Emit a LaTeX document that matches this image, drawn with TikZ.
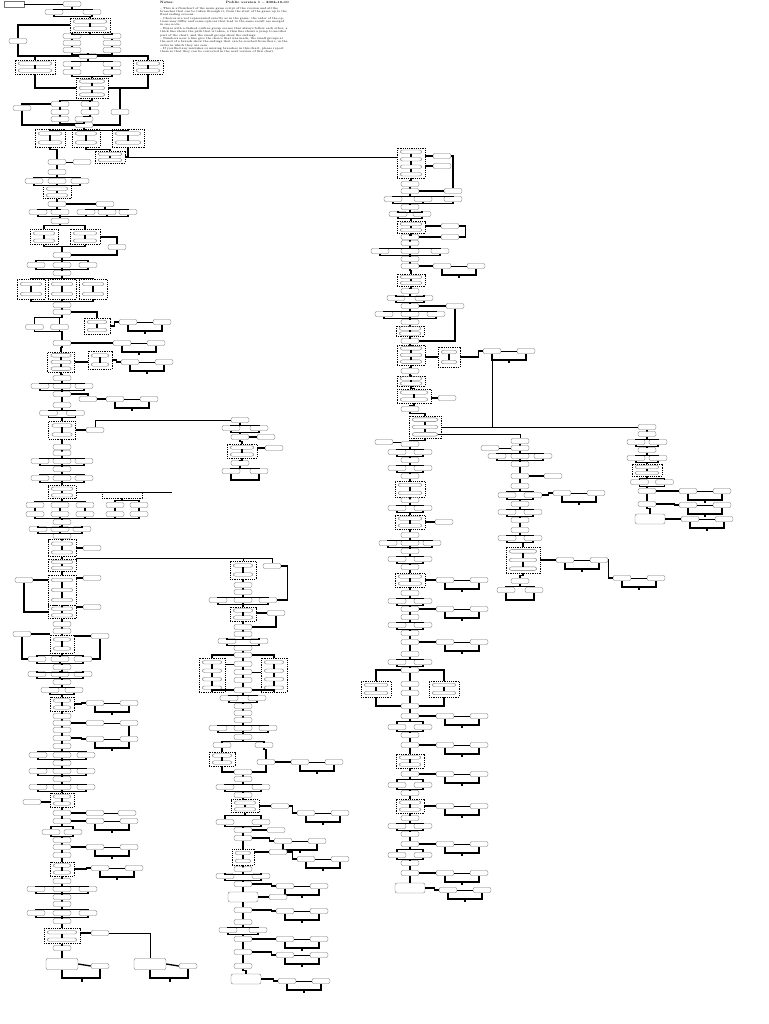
\documentclass[tikz,border=0pt]{standalone}
\usepackage{fontspec}
\usetikzlibrary{calc}
\tikzset{
 nb/.style={draw=black!55,line width=0.35pt,rounded corners=2pt,minimum width=18,minimum height=5,inner sep=0pt,fill=white},
 conn/.style={line width=1.3pt,black},
 thinl/.style={line width=0.5pt,black},
 dbox/.style={draw,line width=0.6pt,dash pattern=on 1.2pt off 1pt,inner sep=0pt},
}
\newcommand\xNd[3]{\node[nb] (#1) at (#2,#3) {};}
\newcommand\xBig[3]{\node[nb,minimum width=30,minimum height=10] (#1) at (#2,#3) {};}
\newcommand\xRow[5]{\foreach \j in {1,...,#4}{\node[nb] (#1-\j) at ({#2+(\j-(#4+1)/2)*#5},#3) {};}}
\newcommand\xFO[3]{\foreach \j in {1,...,#3}{\draw[conn] (#1.south) -- ++(0,2.5) -| (#2-\j.north);}}
\newcommand\xFI[3]{\foreach \j in {1,...,#2}{\draw[conn] (#1-\j.south) -- ++(0,2) -| (#3.north);}}
\newcommand\xVL[2]{\draw[conn] (#1.south) -- ++(0,2) -| (#2.north);}
\newcommand\xPR[3]{\foreach \j in {1,...,#3}{\draw[conn] (#1-\j.south) -- (#2-\j.north);}}
\newcommand\xC[1]{\draw[conn] #1;}
\newcommand\xT[1]{\draw[thinl] #1;}
\newcommand\xDB[6]{%
 \node[dbox,minimum width=#4,minimum height=#5] (#1) at (#2,#3) {};
 \foreach \j in {1,...,#6}{\node[nb,minimum width={#4-7},minimum height=3.5] (#1-\j) at (#2,{#3-#5/2+(\j-0.5)*#5/#6}) {};}
 \foreach \j in {2,...,#6}{\pgfmathtruncatemacro\jp{\j-1}\draw[conn] (#1-\jp.south) -- (#1-\j.north);}}
\newcommand\xSD[4]{%
 \node[nb] (#1a) at (#3,#4) {};
 \node[nb] (#1b) at ({#3+34},#4) {};
 \coordinate (#1m) at ({#3+17},{#4+9});
 \draw[conn] (#2.east) -| ($(#1a.west)+(-4,0)$) -- (#1a.west);
 \draw[thinl] (#1a.east) -- (#1b.west);
 \draw[conn] (#1a.south) |- (#1m) -| (#1b.south);
 \draw[conn] (#1m) -- ++(0,3);}
\begin{document}
\begin{tikzpicture}[x=1pt,y=-1pt]
\useasboundingbox (0,0) rectangle (768,1024);
\fill[white] (0,0) rectangle (768,1024);
% ---------------- header text
\node[anchor=north west,inner sep=0,font=\fontsize{3.2}{3.5}\selectfont\bfseries] (hdr1) at (160,1) {Notes:};
\node[anchor=north east,inner sep=0,font=\fontsize{3.2}{3.5}\selectfont\bfseries] (hdr2) at (289,1) {Public version 1 -- 2004-10-10};
\node[anchor=north west,inner sep=0,text width=128pt,align=left,font=\fontsize{2.9}{3.35}\selectfont] (hdr3) at (160,7) {%
-- This is a flowchart of the main game script of the version and all the branches that can be taken through it, from the start of the game up to the final ending screens.\\
-- Choices are not represented exactly as in the game: the order of the options may differ and some options that lead to the same result are merged in one node.\\
-- Boxes with a dashed outline group scenes that always follow each other; a thick line shows the path that is taken, a thin line shows a jump to another part of the chart, and the small groups show the endings.\\
-- Numbers near a line give the choice that was made; the small groups at the end of a branch show the endings that can be reached from there, in the order in which they are seen.\\
-- If you find any mistakes or missing branches in this chart, please report them so that they can be corrected in the next version of this chart.};
% ---------------- column A, top part
\node[nb,rounded corners=0pt,minimum width=20,minimum height=6] (t0) at (14,4) {};
\xNd{t1}{72}{4}
\xT{(t0.east) -- (t1.west)}
\xRow{t2}{73}{12}{2}{38}
\xFO{t1}{t2}{2}
\xDB{t3}{90}{25}{40}{14}{2}
\xFI{t2}{2}{t3}
\xRow{t4}{92}{36}{2}{40}
\xFO{t3}{t4}{2}
\xRow{t5}{92}{43}{2}{40}
\xPR{t4}{t5}{2}
\xRow{t6}{92}{50}{2}{40}
\xPR{t5}{t6}{2}
\xNd{t7}{88}{56}
\xFI{t6}{2}{t7}
\xNd{tL}{18}{41}
\xC{(t3.west) -| (tL.north)}
\xC{(tL.south) |- (t7.west)}
\xDB{t8}{35}{67}{40}{14}{2}
\xRow{t9}{92}{64}{2}{40}
\xFO{t7}{t9}{2}
\xRow{t10}{92}{72}{2}{40}
\xPR{t9}{t10}{2}
\xDB{t11}{148}{67}{30}{14}{2}
\xC{(t7.west) -| (t8.north)}
\xC{(t7.east) -| (t11.north)}
\xDB{t12}{92}{88}{32}{20}{3}
\xFI{t10}{2}{t12}
\xC{(t8.south) |- (t12.west)}
\xC{(t11.south) |- (t12.east)}
\xRow{t13}{75}{104}{2}{30}
\xFO{t12}{t13}{2}
\xNd{t14}{22}{108}
\xC{(t13-1.west) -| (t14.north)}
\xRow{t15}{90}{112}{3}{30}
\xVL{t13-1}{t15-1}
\xVL{t13-2}{t15-2}
\xC{(t12.east) -| (t15-3.north)}
\xRow{t16}{72}{119}{2}{24}
\xVL{t15-1}{t16-1}
\xVL{t15-2}{t16-2}
\xNd{t17}{84}{125}
\xFI{t16}{2}{t17}
\xC{(t15-3.south) |- (t17.east)}
\xC{(t14.south) |- (t17.west)}
\xDB{t18-1}{50}{138}{30}{18}{2}
\xDB{t18-2}{86}{138}{28}{18}{2}
\xDB{t18-3}{128}{138}{32}{18}{2}
\xFO{t17}{t18}{3}
\xDB{t19}{110}{157}{30}{12}{2}
\xC{(t18-2.south) -- ++(0,2) -| (t19.north)}
\xC{(t18-3.south) |- (t19.east)}
% ---------------- column A
\xNd{a1}{57}{162}
\xC{(t18-1.south) -- ++(0,2) -| (a1.north)}
\xNd{a1s}{82}{162}
\xT{(a1.east) -- (a1s.west)}
\xNd{a2}{57}{172} \xVL{a1}{a2}
\xRow{a3}{57}{181}{3}{23} \xFO{a2}{a3}{3}
\xDB{a4}{57}{192}{28}{13}{2} \xFI{a3}{3}{a4}
\xNd{a5}{57}{204} \xVL{a4}{a5}
\xRow{a6}{49}{212}{2}{22} \xFO{a5}{a6}{2}
\xNd{a6x}{105}{204} \xC{(a5.east) -- (a6x.west)}
\xRow{a6y}{107}{212}{3}{21} \xFO{a6x}{a6y}{3}
\xNd{a7}{60}{221} \xFI{a6}{2}{a7} \xFI{a6y}{3}{a7}
\xDB{a8l}{44}{237}{28}{15}{2}
\xDB{a8r}{85}{237}{30}{15}{2}
\xC{(a7.south) -- ++(0,2) -| (a8l.north)}
\xC{(a7.south) -- ++(0,2) -| (a8r.north)}
\xNd{a8s}{117}{247}
\xNd{a9}{62}{255}
\xC{(a8l.south) -- ++(0,2) -| (a9.north)}
\xC{(a8r.south) -- ++(0,2) -| (a9.north)}
\xC{(a8r.east) -| (a8s.north)}
\xC{(a8s.south) |- (a9.east)}
\xRow{a10}{62}{265}{3}{26} \xFO{a9}{a10}{3}
\xNd{a11}{62}{273} \xFI{a10}{3}{a11}
\xDB{a12-1}{31}{289}{28}{20}{2}
\xDB{a12-2}{62}{289}{28}{20}{2}
\xDB{a12-3}{93}{289}{28}{20}{2}
\xFO{a11}{a12}{3}
\xNd{a13}{62}{305} \xFI{a12}{3}{a13}
\xNd{a14}{62}{312} \xVL{a13}{a14}
\xRow{a15}{47}{327}{2}{25} \xFO{a14}{a15}{2}
\xDB{a15d}{97}{326}{26}{16}{2}
\xC{(a14.east) -| (a15d.north)}
\xSD{sa1}{a15d}{128}{322}
\xNd{a16}{62}{343} \xFI{a15}{2}{a16}
\xSD{sa2}{a16}{122}{343}
\xDB{a17}{61}{362}{27}{20}{3} \xVL{a16}{a17}
\xDB{a17r}{100}{360}{24}{18}{2}
\xC{(a17.east) -- (a17.east -| a17r.west)}
\xSD{sa3}{a17r}{130}{362}
\xNd{a18}{62}{378} \xVL{a17}{a18}
\xRow{a19}{62}{386}{3}{22} \xFO{a18}{a19}{3}
\xNd{a20}{62}{394} \xFI{a19}{3}{a20}
\xNd{a20s}{88}{399}
\xC{(a20.east) -| (a20s.north)}
\xSD{sa4}{a20s}{115}{399}
\xNd{a21}{62}{405} \xVL{a20}{a21}
\xRow{a22}{62}{413}{2}{27} \xFO{a21}{a22}{2}
\xDB{a23}{62}{430}{27}{18}{2} \xFI{a22}{2}{a23}
\xNd{a23s}{95}{430}
\xC{(a23.east) -- (a23s.west)}
\xNd{a24}{62}{447} \xVL{a23}{a24}
\xNd{a25}{62}{453} \xVL{a24}{a25}
\xRow{a26}{62}{461}{3}{22} \xFO{a25}{a26}{3}
\xNd{a27}{62}{469} \xFI{a26}{3}{a27}
\xRow{a28}{62}{478}{3}{22} \xFO{a27}{a28}{3}
\xDB{a30}{62}{492}{28}{13}{2} \xFI{a28}{3}{a30}
\node[dbox,minimum width=40,minimum height=6] (a30x) at (122,495) {};
\coordinate (a30e) at (172,488);
\xT{(a30.east) -- (a30.east -| a30e)}
\xRow{a31}{60}{505}{3}{25} \xFO{a30}{a31}{3}
\xRow{a31x}{127}{505}{2}{24} \xFO{a30x}{a31x}{2}
\xRow{a32}{60}{514}{3}{25} \xPR{a31}{a32}{3}
\xRow{a32x}{127}{514}{2}{24} \xPR{a31x}{a32x}{2}
\xNd{a33}{62}{522} \xFI{a32}{3}{a33} \xFI{a32x}{2}{a33}
\xRow{a34}{60}{529}{3}{22} \xFO{a33}{a34}{3}
\xNd{a35}{62}{536} \xFI{a34}{3}{a35}
\xDB{a36}{62}{548}{28}{17}{2} \xVL{a35}{a36}
\xNd{a36s}{92}{548} \xC{(a36.east) -- (a36s.west)}
\xDB{a37}{62}{565}{28}{12}{2} \xVL{a36}{a37}
\xDB{a38}{62}{590}{28}{30}{3} \xVL{a37}{a38}
\xNd{a38l}{24}{580} \xC{(a38l.east) -- (a38l.east -| a38.west)}
\xNd{a38r}{92}{578} \xC{(a38r.west) -- (a38r.west -| a38.east)}
\xDB{a39}{62}{612}{28}{13}{2} \xVL{a38}{a39}
\xC{(a38l.south) |- (a39.west)}
\xNd{a39r}{92}{607} \xC{(a39r.west) -- (a39r.west -| a39.east)}
\xNd{a40}{62}{624} \xVL{a39}{a40}
\xNd{a41}{62}{631} \xVL{a40}{a41}
\xDB{a42}{62}{644}{24}{18}{2} \xVL{a41}{a42}
\xNd{a42l}{22}{634} \xC{(a42l.east) -- (a42l.east -| a42.west)}
\xNd{a42r}{100}{636} \xC{(a42r.west) -- (a42r.west -| a42.east)}
\xRow{a43}{60}{659}{3}{23} \xFO{a42}{a43}{3}
\xC{(a42l.south) |- (a43-1.west)}
\xC{(a42r.south) |- (a43-3.east)}
\xNd{a44}{62}{667} \xFI{a43}{3}{a44}
\xRow{a45}{60}{674}{3}{23} \xFO{a44}{a45}{3}
\xNd{a46}{62}{682} \xFI{a45}{3}{a46}
\xRow{a47}{62}{690}{2}{24} \xFO{a46}{a47}{2}
\xDB{a48}{62}{704}{24}{14}{2} \xFI{a47}{2}{a48}
\xSD{sa5}{a48}{95}{703}
\xNd{a49}{62}{716} \xVL{a48}{a49}
\xNd{a50}{62}{723} \xVL{a49}{a50}
\xNd{a50s}{95}{723} \xNd{a50t}{129}{723}
\xC{(a50.east) -- (a50s.west)} \xT{(a50s.east) -- (a50t.west)}
\xNd{a51}{62}{730} \xVL{a50}{a51}
\xNd{a52}{62}{738} \xVL{a51}{a52}
\xSD{sa6}{a52}{95}{739}
\xC{(a50t.south) -- (sa6b.north)}
\xNd{a53}{62}{746} \xVL{a52}{a53}
\xRow{a54}{62}{755}{3}{24} \xFO{a53}{a54}{3}
\xNd{a55}{62}{763} \xFI{a54}{3}{a55}
\xRow{a56}{62}{771}{3}{24} \xFO{a55}{a56}{3}
\xNd{a57}{62}{779} \xFI{a56}{3}{a57}
\xRow{a58}{62}{787}{3}{24} \xFO{a57}{a58}{3}
\xDB{a59}{62}{800}{24}{14}{2} \xFI{a58}{3}{a59}
\xNd{a59l}{32}{802} \xC{(a59l.east) -- (a59l.east -| a59.west)}
\xNd{a60}{62}{813} \xVL{a59}{a60}
\xNd{a60s}{95}{813} \xNd{a60t}{127}{813}
\xC{(a60.east) -- (a60s.west)} \xT{(a60s.east) -- (a60t.west)}
\xNd{a61}{62}{821} \xVL{a60}{a61}
\xSD{sa7}{a61}{95}{821}
\xRow{a62}{62}{832}{2}{22} \xFO{a61}{a62}{2}
\xNd{a63}{62}{840} \xFI{a62}{2}{a63}
\xNd{a64}{62}{847} \xVL{a63}{a64}
\xSD{sa8}{a64}{95}{847}
\xNd{a65}{62}{855} \xVL{a64}{a65}
\xDB{a66}{62}{869}{24}{14}{2} \xVL{a65}{a66}
\xSD{sa9}{a66}{100}{868}
\xNd{a67}{62}{881} \xVL{a66}{a67}
\xRow{a68}{62}{889}{3}{26} \xFO{a67}{a68}{3}
\xNd{a69}{62}{897} \xFI{a68}{3}{a69}
\xNd{a70}{62}{904} \xVL{a69}{a70}
\xRow{a71}{62}{913}{3}{26} \xFO{a70}{a71}{3}
\xNd{a72}{62}{921} \xFI{a71}{3}{a72}
\xDB{a73}{62}{936}{36}{15}{2} \xVL{a72}{a73}
\xNd{a73r}{100}{933} \xC{(a73r.west) -- (a73r.west -| a73.east)}
\xNd{a74}{62}{948} \xVL{a73}{a74}
\node[nb,minimum width=32,minimum height=11] (a75) at (62,964) {};
\xVL{a74}{a75}
\xNd{a75s}{100}{966} \xC{(a75.east) -- (a75s.west)}
\coordinate (a75m) at (82,978);
\xC{(a75.south) |- (a75m) -| (a75s.south)}
\xC{(a75m) -- ++(0,4)}
\node[nb,minimum width=32,minimum height=11] (a76) at (150,964) {};
\xT{(a73r.east) -| (a76.north)}
\xNd{a76s}{188}{966} \xC{(a76.east) -- (a76s.west)}
\coordinate (a76m) at (170,978);
\xC{(a76.south) |- (a76m) -| (a76s.south)}
\xC{(a76m) -- ++(0,4)}
% ---------------- cluster F
\xNd{f0}{240}{420}
\xRow{f1}{245}{428}{2}{28} \xFO{f0}{f1}{2}
\xNd{f2}{240}{437} \xFI{f1}{2}{f2}
\xNd{f2r}{266}{437} \xC{(f2.east) -- (f2r.west)}
\xDB{f3}{242}{451}{30}{14}{2} \xVL{f2}{f3}
\xNd{f3r}{274}{448} \xC{(f3r.west) -- (f3r.west -| f3.east)}
\xNd{f4}{240}{463} \xVL{f3}{f4}
\xRow{f5}{245}{471}{2}{28} \xFO{f4}{f5}{2}
\coordinate (f5m) at (245,480);
\xC{(f5-1.south) |- (f5m) -| (f5-2.south)}
\xT{(a23s.north) |- (f0.west)}
% ---------------- column B
\xDB{b1}{243}{570}{26}{18}{2}
\xNd{b1x}{272}{566}
\xNd{b3}{243}{585} \xVL{b1}{b3}
\xNd{b3b}{243}{592} \xVL{b3}{b3b}
\xRow{b4}{243}{600}{3}{25} \xFO{b3b}{b4}{3}
\xC{(b1x.east) -- ++(6,0) |- (b4-3.east)}
\xDB{b5}{243}{614}{26}{14}{2} \xFI{b4}{3}{b5}
\xNd{b5r}{276}{613} \xC{(b5r.west) -- (b5r.west -| b5.east)}
\xNd{b6}{243}{627} \xVL{b5}{b6}
\xC{(b5r.south) |- (b6.east)}
\xNd{b7}{243}{634} \xVL{b6}{b7}
\xRow{b8}{243}{641}{2}{32} \xFO{b7}{b8}{2}
\xNd{b9}{243}{648} \xFI{b8}{2}{b9}
\xNd{b10}{243}{655} \xVL{b9}{b10}
\xDB{b11l}{212}{675}{26}{34}{4}
\xDB{b11r}{274}{675}{26}{34}{4}
\xNd{b11a}{243}{664} \xVL{b10}{b11a}
\xNd{b11b}{243}{672} \xVL{b11a}{b11b}
\xNd{b11c}{243}{680} \xVL{b11b}{b11c}
\xC{(b10.west) -| (b11l.north)}
\xC{(b10.east) -| (b11r.north)}
\xT{(b11a.west) -- (b11a.west -| b11l.east)}
\xT{(b11b.east) -- (b11b.east -| b11r.west)}
\xNd{b12}{243}{690} \xVL{b11c}{b12}
\xC{(b11l.south) |- (b12.west)}
\xC{(b11r.south) |- (b12.east)}
\xRow{b13}{243}{698}{2}{28} \xFO{b12}{b13}{2}
\xNd{b14}{243}{706} \xFI{b13}{2}{b14}
\xNd{b15}{243}{713} \xVL{b14}{b15}
\xNd{b16}{243}{720} \xVL{b15}{b16}
\xRow{b17}{243}{728}{3}{25} \xFO{b16}{b17}{3}
\xNd{b18}{243}{737} \xFI{b17}{3}{b18}
\xNd{b19l}{222}{745} \xNd{b19r}{264}{745}
\xC{(b18.south) -- ++(0,2) -| (b19l.north)}
\xC{(b18.south) -- ++(0,2) -| (b19r.north)}
\xDB{b19d}{222}{759}{26}{14}{2} \xVL{b19l}{b19d}
\xNd{b19s}{266}{762} \xVL{b19r}{b19s}
\xSD{sb1}{b19s}{300}{762}
\xNd{b20}{243}{772}
\xC{(b19d.south) |- (b20.west)}
\xC{(b19s.south) |- (b20.east)}
\xNd{b21}{243}{779} \xVL{b20}{b21}
\xRow{b22}{243}{787}{2}{36} \xFO{b21}{b22}{2}
\xNd{b23}{243}{795} \xFI{b22}{2}{b23}
\xDB{b24}{245}{806}{28}{13}{2} \xVL{b23}{b24}
\xNd{b24r}{280}{806} \xC{(b24.east) -- (b24r.west)}
\xSD{sb2}{b24r}{306}{813}
\xRow{b25}{243}{822}{2}{36} \xFO{b24}{b25}{2}
\xNd{b26}{243}{830} \xFI{b25}{2}{b26}
\xNd{b26r}{276}{830} \xC{(b26.east) -- (b26r.west)}
\xNd{b27}{243}{838} \xVL{b26}{b27}
\xSD{sb3}{b27}{283}{841}
\xDB{b28}{243}{857}{22}{16}{2} \xVL{b27}{b28}
\xNd{b28r}{278}{852} \xC{(b28r.west) -- (b28r.west -| b28.east)}
\xSD{sb4}{b28r}{306}{859}
\xNd{b29}{243}{869} \xVL{b28}{b29}
\xRow{b30}{243}{876}{2}{36} \xFO{b29}{b30}{2}
\xNd{b31}{243}{884} \xFI{b30}{2}{b31}
\xSD{sb5}{b31}{285}{886}
\xBig{b32}{243}{897} \xVL{b31}{b32}
\xNd{b32r}{278}{897} \xC{(b32.east) -- (b32r.west)}
\xNd{b33}{243}{910} \xVL{b32}{b33}
\xSD{sb6}{b33}{285}{911}
\xNd{b34}{243}{922} \xVL{b33}{b34}
\xRow{b35}{243}{930}{2}{30} \xFO{b34}{b35}{2}
\xNd{b36}{243}{939} \xFI{b35}{2}{b36}
\xSD{sb7}{b36}{285}{939}
\xNd{b37}{243}{952} \xVL{b36}{b37}
\xSD{sb8}{b37}{285}{955}
\xNd{b38}{243}{966} \xVL{b37}{b38}
\xBig{b39}{246}{979} \xVL{b38}{b39}
\xSD{sb9}{b39}{287}{981}
% ---------------- column C
\xDB{c1}{411}{163}{28}{30}{4}
\xNd{c1a}{442}{156} \xNd{c1b}{442}{166}
\xC{(c1a.west) -- (c1a.west -| c1.east)}
\xC{(c1b.west) -- (c1b.west -| c1.east)}
\xNd{c2}{410}{184} \xVL{c1}{c2}
\xNd{c3}{410}{191} \xVL{c2}{c3}
\xNd{c3s}{453}{191}
\xC{(c1a.east) -| (c3s.north)}
\xC{(c3.east) -- (c3s.west)}
\xRow{c4}{423}{199}{3}{30} \xFO{c3}{c4}{3}
\xNd{c5}{410}{207} \xFI{c4}{3}{c5}
\xRow{c6}{410}{214}{2}{24} \xFO{c5}{c6}{2}
\xDB{c7}{411}{227}{28}{12}{2} \xFI{c6}{2}{c7}
\xNd{c7r}{450}{226} \xC{(c7r.west) -- (c7r.west -| c7.east)}
\xNd{c8}{410}{237} \xVL{c7}{c8}
\xNd{c8r}{450}{237} \xC{(c8.east) -- (c8r.west)}
\xC{(c7r.east) -- ++(6,0) |- (c8r.east)}
\xNd{c9}{410}{243} \xVL{c8}{c9}
\xRow{c10}{410}{251}{3}{30} \xFO{c9}{c10}{3}
\xNd{c11}{410}{259} \xFI{c10}{3}{c11}
\xNd{c12}{410}{266} \xVL{c11}{c12}
\xSD{sc1}{c12}{442}{266}
\xDB{c13}{411}{280}{28}{12}{2} \xVL{c12}{c13}
\xNd{c14}{410}{291} \xVL{c13}{c14}
\xRow{c15}{410}{298}{2}{28} \xFO{c14}{c15}{2}
\xNd{c16}{410}{306} \xFI{c15}{2}{c16}
\xNd{c16r}{455}{306} \xC{(c16.east) -- (c16r.west)}
\xRow{c17}{410}{314}{3}{26} \xFO{c16}{c17}{3}
\xNd{c18}{410}{322} \xFI{c17}{3}{c18}
\xDB{c19}{410}{331}{28}{10}{2} \xVL{c18}{c19}
\xNd{c20}{410}{341} \xVL{c19}{c20}
\xC{(c16r.south) |- (c20.east)}
\xDB{c21}{411}{355}{28}{20}{3} \xVL{c20}{c21}
\xDB{c21r}{449}{357}{22}{20}{2}
\xC{(c21r.west) -- (c21r.west -| c21.east)}
\xSD{sc2}{c21r}{492}{351}
\xNd{c22}{410}{371} \xVL{c21}{c22}
\xDB{c23}{411}{381}{28}{10}{2} \xVL{c22}{c23}
\xDB{c24}{414}{396}{34}{14}{2} \xVL{c23}{c24}
\xNd{c24r}{447}{398} \xC{(c24r.west) -- (c24r.west -| c24.east)}
\xNd{c25}{410}{409} \xVL{c24}{c25}
\xDB{c26}{425}{427}{32}{22}{3} \xVL{c25}{c26}
\xNd{c27}{410}{444}
\xC{(c26.south) -- ++(0,2) -| (c27.north)}
\xNd{c27l}{384}{442} \xT{(c27l.east) -- (c27l.east -| c27.west)}
\xRow{c28}{410}{452}{2}{26} \xFO{c27}{c28}{2}
\xNd{c29}{410}{460} \xFI{c28}{2}{c29}
\xRow{c30}{410}{468}{2}{26} \xFO{c29}{c30}{2}
\xNd{c31}{410}{476} \xFI{c30}{2}{c31}
\xDB{c32}{410}{489}{30}{16}{2} \xVL{c31}{c32}
\xNd{c33}{410}{500} \xVL{c32}{c33}
\xRow{c34}{410}{508}{2}{26} \xFO{c33}{c34}{2}
\xDB{c35}{410}{522}{30}{14}{2} \xFI{c34}{2}{c35}
\xNd{c35r}{444}{522} \xC{(c35.east) -- (c35r.west)}
\xNd{c36}{410}{535} \xVL{c35}{c36}
\xRow{c37}{410}{543}{3}{22} \xFO{c36}{c37}{3}
\xNd{c38}{410}{551} \xFI{c37}{3}{c38}
\xRow{c39}{410}{559}{2}{26} \xFO{c38}{c39}{2}
\xNd{c40}{410}{567} \xFI{c39}{2}{c40}
\xDB{c41}{410}{580}{30}{14}{2} \xVL{c40}{c41}
\xSD{sc3}{c41}{445}{580}
\xNd{c42}{410}{593} \xVL{c41}{c42}
\xRow{c43}{410}{601}{2}{26} \xFO{c42}{c43}{2}
\xNd{c44}{410}{609} \xFI{c43}{2}{c44}
\xSD{sc4}{c44}{445}{609}
\xNd{c45}{410}{617} \xVL{c44}{c45}
\xRow{c46}{410}{625}{2}{26} \xFO{c45}{c46}{2}
\xNd{c47}{410}{633} \xFI{c46}{2}{c47}
\xNd{c48}{410}{642} \xVL{c47}{c48}
\xSD{sc5}{c48}{445}{642}
\xNd{c49}{410}{654} \xVL{c48}{c49}
\xRow{c50}{410}{662}{2}{26} \xFO{c49}{c50}{2}
\xNd{c51}{410}{670} \xFI{c50}{2}{c51}
\xDB{c52l}{376}{689}{30}{16}{2}
\xDB{c52r}{444}{689}{30}{16}{2}
\xNd{c52}{410}{684} \xVL{c51}{c52}
\xNd{c52b}{410}{693} \xVL{c52}{c52b}
\xC{(c51.west) -| (c52l.north)}
\xC{(c51.east) -| (c52r.north)}
\xNd{c53}{410}{706} \xVL{c52b}{c53}
\xC{(c52l.south) |- (c53.west)}
\xC{(c52r.south) |- (c53.east)}
\xNd{c54}{410}{716} \xVL{c53}{c54}
\xSD{sc6}{c54}{445}{716}
\xRow{c55}{410}{727}{2}{26} \xFO{c54}{c55}{2}
\xNd{c56}{410}{735} \xFI{c55}{2}{c56}
\xNd{c57}{410}{745} \xVL{c56}{c57}
\xSD{sc7}{c57}{445}{745}
\xDB{c58}{410}{761}{28}{14}{2} \xVL{c57}{c58}
\xNd{c59}{410}{774} \xVL{c58}{c59}
\xSD{sc8}{c59}{445}{774}
\xRow{c60}{410}{785}{2}{26} \xFO{c59}{c60}{2}
\xNd{c61}{410}{793} \xFI{c60}{2}{c61}
\xDB{c62}{410}{806}{28}{14}{2} \xVL{c61}{c62}
\xSD{sc9}{c62}{445}{806}
\xNd{c63}{410}{818} \xVL{c62}{c63}
\xRow{c64}{410}{826}{2}{26} \xFO{c63}{c64}{2}
\xNd{c65}{410}{834} \xFI{c64}{2}{c65}
\xNd{c66}{410}{844} \xVL{c65}{c66}
\xSD{sc10}{c66}{445}{844}
\xRow{c67}{410}{855}{2}{26} \xFO{c66}{c67}{2}
\xNd{c68}{410}{863} \xFI{c67}{2}{c68}
\xNd{c69}{410}{873} \xVL{c68}{c69}
\xSD{sc11}{c69}{445}{873}
\xBig{c70}{410}{888} \xVL{c69}{c70}
\xSD{sc12}{c70}{448}{890}
% ---------------- column D
\xNd{d0}{520}{441}
\xNd{d1}{520}{448} \xVL{d0}{d1}
\xNd{d0l}{490}{448} \xT{(d0l.east) -- (d1.west)}
\xRow{d2}{520}{456}{3}{23} \xFO{d1}{d2}{3}
\xNd{d3}{520}{464} \xFI{d2}{3}{d3}
\xNd{d4}{520}{476} \xVL{d3}{d4}
\xNd{d4r}{553}{476} \xC{(d4.east) -- (d4r.west)}
\xNd{d5}{520}{486} \xVL{d4}{d5}
\xRow{d6}{520}{495}{2}{26} \xFO{d5}{d6}{2}
\xSD{sd1}{d6-2}{562}{493}
\xNd{d7}{520}{504} \xFI{d6}{2}{d7}
\xRow{d8}{520}{512}{2}{26} \xFO{d7}{d8}{2}
\xNd{d9}{520}{520} \xFI{d8}{2}{d9}
\xNd{d10}{520}{530} \xVL{d9}{d10}
\xRow{d11}{520}{538}{2}{26} \xFO{d10}{d11}{2}
\xDB{d12}{523}{560}{34}{26}{3} \xFI{d11}{2}{d12}
\xSD{sd2}{d12}{565}{560}
\xSD{sd3}{sd2b}{622}{578}
\xNd{d13}{520}{581} \xVL{d12}{d13}
\xRow{d14}{520}{590}{2}{28} \xFO{d13}{d14}{2}
\coordinate (d14m) at (520,600);
\xC{(d14-1.south) |- (d14m) -| (d14-2.south)}
% ---------------- column E
\xNd{e0}{647}{427}
\xNd{e1}{647}{434} \xVL{e0}{e1}
\xRow{e2}{647}{442}{2}{22} \xFO{e1}{e2}{2}
\xNd{e3}{647}{450} \xFI{e2}{2}{e3}
\xRow{e4}{647}{458}{2}{22} \xFO{e3}{e4}{2}
\xDB{e5}{647}{470}{30}{12}{2} \xFI{e4}{2}{e5}
\xRow{e6}{652}{482}{2}{25} \xFO{e5}{e6}{2}
\xNd{e7}{647}{491} \xFI{e6}{2}{e7}
\xSD{se1}{e7}{688}{491}
\xNd{e8}{647}{504} \xVL{e7}{e8}
\xSD{se2}{e8}{688}{505}
\xBig{e9}{650}{519} \xVL{e8}{e9}
\xSD{se3}{e9}{690}{519}
% ---------------- long connectors
\xT{(t19.east) -- (t19.east -| c1.west)}
\xT{(a37.north east) -| (b1x.north)}
\xT{(b1.north) -- (b1.north |- a37.north east)}
\xT{(c26.east) -- (e0.west)}
\xT{(c26-3.east) -| (d0.north)}
\xT{(sc2a.south) -- (sc2a.south |- e0.west)}
\end{tikzpicture}
\end{document}
